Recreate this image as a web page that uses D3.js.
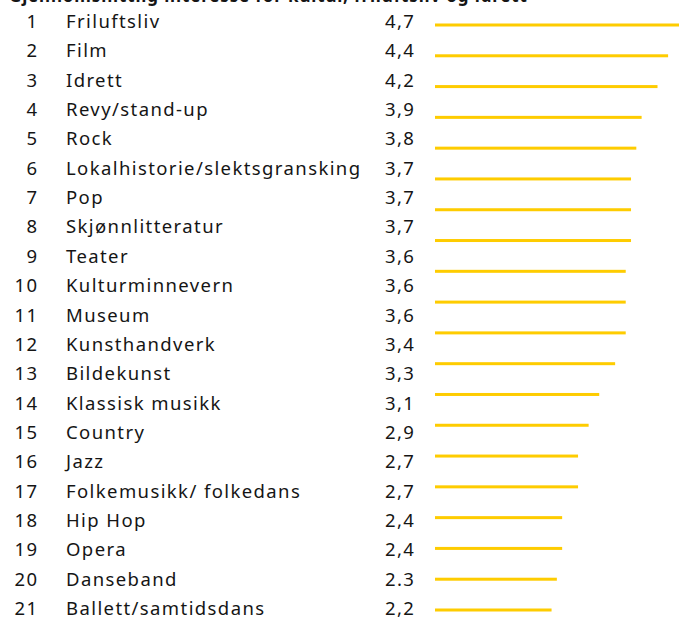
<!DOCTYPE html>
<html>
<head>
<meta charset="utf-8">
<script src="https://cdn.jsdelivr.net/npm/d3@7"></script>
<style>
  html, body { margin: 0; padding: 0; background: #fff; }
  svg { display: block; }
</style>
</head>
<body>
<script>
const title = "Gjennomsnittlig interesse for kultur, friluftsliv og idrett";
const ranks = ["1","2","3","4","5","6","7","8","9","10","11","12","13","14","15","16","17","18","19","20","21"];
const categories = ["Friluftsliv","Film","Idrett","Revy/stand-up","Rock","Lokalhistorie/slektsgransking","Pop","Skjønnlitteratur","Teater","Kulturminnevern","Museum","Kunsthandverk","Bildekunst","Klassisk musikk","Country","Jazz","Folkemusikk/ folkedans","Hip Hop","Opera","Danseband","Ballett/samtidsdans"];
const valueLabels = ["4,7","4,4","4,2","3,9","3,8","3,7","3,7","3,7","3,6","3,6","3,6","3,4","3,3","3,1","2,9","2,7","2,7","2,4","2,4","2.3","2,2"];
// bars as drawn in the reference (20 bars; the 3,3 bar is absent)
const barValues = [4.7,4.4,4.2,3.9,3.8,3.7,3.7,3.7,3.6,3.6,3.6,3.4,3.1,2.9,2.7,2.7,2.4,2.4,2.3,2.2];

const W = 679, H = 619;
const svg = d3.select("body").append("svg").attr("width", W).attr("height", H);

const font = "'Noto Sans', Roboto, sans-serif";
const textColor = "#151515";

const rowY = d3.scalePoint().domain(d3.range(categories.length)).range([28, 615]);
const barY = d3.scalePoint().domain(d3.range(barValues.length)).range([25, 610]);
const x = d3.scaleLinear().domain([0, 4.7]).range([435, 684]);

svg.append("text")
  .attr("x", 9).attr("y", 2)
  .attr("font-family", font).attr("font-weight", 700).attr("font-size", 17)
  .attr("letter-spacing", "0.85px")
  .attr("fill", textColor)
  .text(title);

const rows = svg.append("g").selectAll("g").data(categories).join("g")
  .attr("transform", (d, i) => `translate(0,${rowY(i)})`)
  .attr("font-family", font).attr("font-size", 18.5).attr("fill", textColor)
  .attr("letter-spacing", "1.4px");

rows.append("text").attr("x", 38.5).attr("text-anchor", "end").text((d, i) => ranks[i]);
rows.append("text").attr("x", 66).text(d => d);
rows.append("text").attr("x", 385).text((d, i) => valueLabels[i]);

svg.append("g").selectAll("rect").data(barValues).join("rect")
  .attr("x", x(0))
  .attr("y", (d, i) => barY(i) - 1.5)
  .attr("width", d => x(d) - x(0))
  .attr("height", 3)
  .attr("fill", "#fecc00");
</script>
</body>
</html>
